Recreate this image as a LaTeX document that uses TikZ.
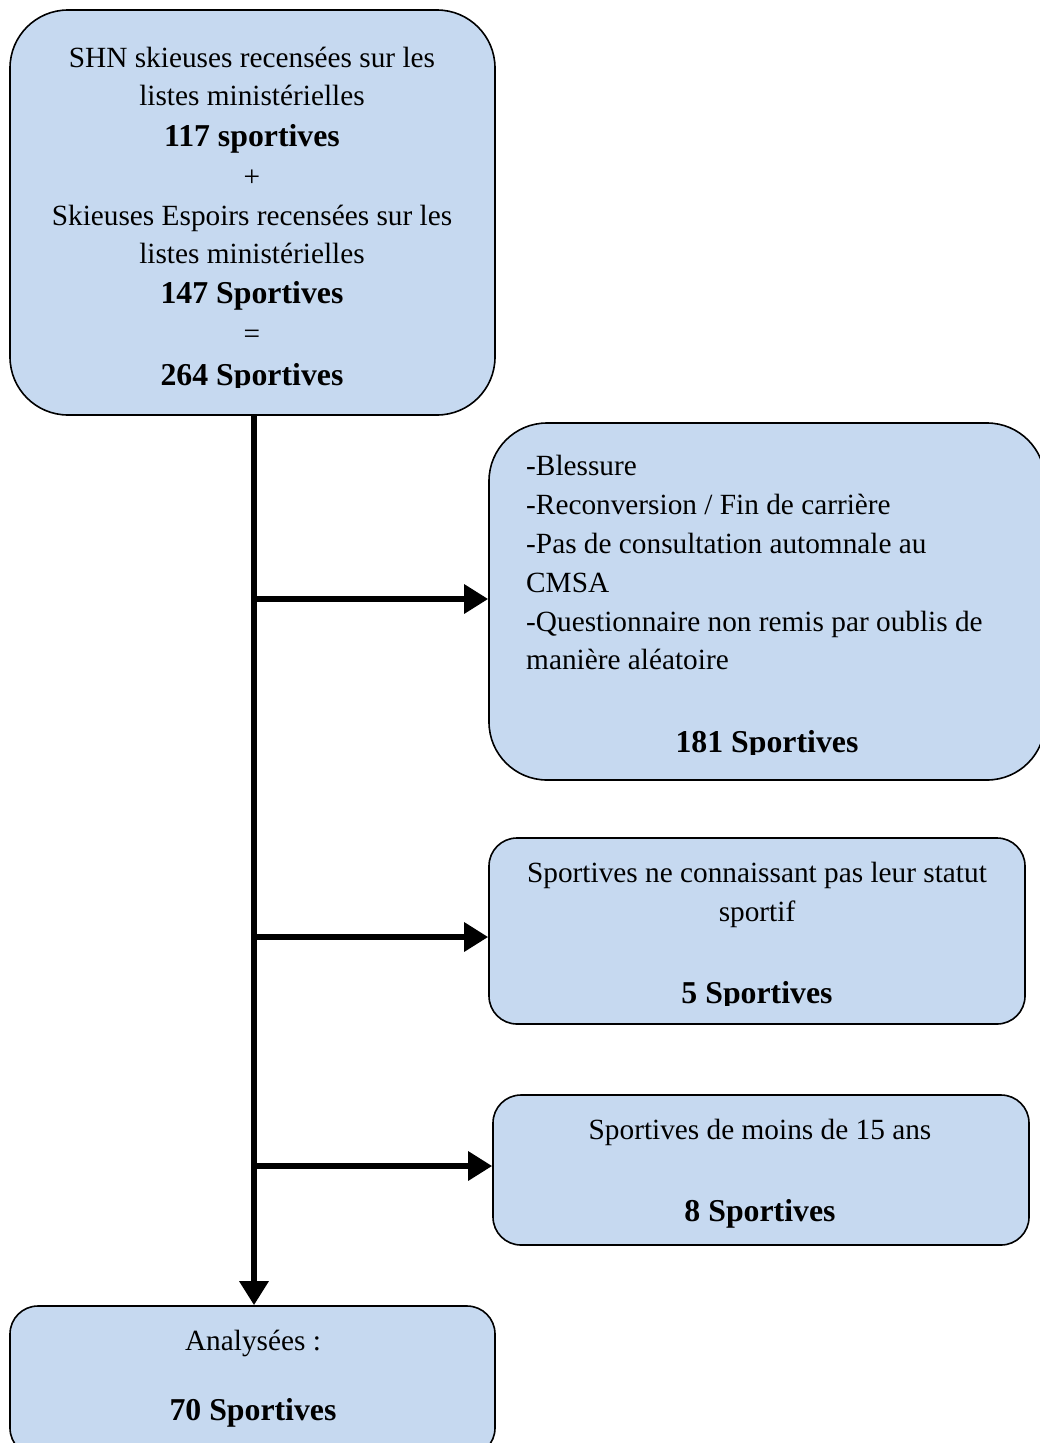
\documentclass[tikz,border=0pt]{standalone}
\usepackage{fontspec}
\setmainfont{Liberation Serif}
\usetikzlibrary{arrows.meta}
\definecolor{boxblue}{RGB}{198,217,240}
\begin{document}
\begin{tikzpicture}[x=1pt,y=-1pt,
  box/.style={draw=black, line width=1.6pt, fill=boxblue, inner sep=0pt},
  txt/.style={inner sep=0pt, font=\fontsize{29.3}{39}\selectfont},
  btxt/.style={inner sep=0pt, font=\fontsize{31.8}{39}\selectfont\bfseries},
  conn/.style={line width=6.5pt, -{Triangle[length=24pt,width=28pt]}, shorten >=0pt}
]
\useasboundingbox (0,0) rectangle (1039,1443);
% boxes
\node[box, rounded corners=58pt, minimum width=485pt, minimum height=405pt] (top) at (252.5,212.5) {};
\node[box, rounded corners=58pt, minimum width=556pt, minimum height=357pt] (b2) at (767,601.5) {};
\node[box, rounded corners=28pt, minimum width=536pt, minimum height=186pt] (b3) at (757,931) {};
\node[box, rounded corners=28pt, minimum width=536pt, minimum height=150pt] (b4) at (761,1170) {};
\node[box, rounded corners=28pt, minimum width=485pt, minimum height=150pt] (bot) at (252.5,1381) {};
% top box text
\node[txt, anchor=base] (t1) at (252,67) {SHN skieuses recensées sur les};
\node[txt, anchor=base] (t2) at (252,105) {listes ministérielles};
\node[btxt, anchor=base] (t3) at (252,146) {117 sportives};
\node[txt, anchor=base] (t4) at (252,186) {+};
\node[txt, anchor=base] (t5) at (252,225) {Skieuses Espoirs recensées sur les};
\node[txt, anchor=base] (t6) at (252,263) {listes ministérielles};
\node[btxt, anchor=base] (t7) at (252,303) {147 Sportives};
\node[txt, anchor=base] (t8) at (252,343) {=};
\begin{scope}
\clip (20,340) rectangle (480,387);
\node[btxt, anchor=base] (t9) at (252,385) {264 Sportives};
\end{scope}
% box 2 text
\node[txt, anchor=base west] (r1) at (526,475) {-Blessure};
\node[txt, anchor=base west] (r2) at (526,514) {-Reconversion / Fin de carrière};
\node[txt, anchor=base west] (r3) at (526,553) {-Pas de consultation automnale au};
\node[txt, anchor=base west] (r4) at (526,592) {CMSA};
\node[txt, anchor=base west] (r5) at (526,631) {-Questionnaire non remis par oublis de};
\node[txt, anchor=base west] (r6) at (526,669) {manière aléatoire};
\begin{scope}
\clip (500,700) rectangle (1030,754);
\node[btxt, anchor=base] (r7) at (767,752) {181 Sportives};
\end{scope}
% box 3 text
\node[txt, anchor=base] (s1) at (757,882) {Sportives ne connaissant pas leur statut};
\node[txt, anchor=base] (s2) at (757,921) {sportif};
\begin{scope}
\clip (500,960) rectangle (1020,1005);
\node[btxt, anchor=base] (s3) at (757,1003) {5 Sportives};
\end{scope}
% box 4 text
\node[txt, anchor=base] (u1) at (760,1139) {Sportives de moins de 15 ans};
\node[btxt, anchor=base] (u2) at (760,1221) {8 Sportives};
% bottom box text
\node[txt, anchor=base] (v1) at (253,1350) {Analysées :};
\node[btxt, anchor=base] (v2) at (253,1420) {70 Sportives};
% connectors
\coordinate (j0) at (254,415);
\coordinate (j1) at (254,599);
\coordinate (j2) at (254,937);
\coordinate (j3) at (254,1166);
\draw[conn] (j0) -- (j0 |- bot.north);
\draw[conn] (j1) -- (j1 -| b2.west);
\draw[conn] (j2) -- (j2 -| b3.west);
\draw[conn] (j3) -- (j3 -| b4.west);
\end{tikzpicture}
\end{document}
